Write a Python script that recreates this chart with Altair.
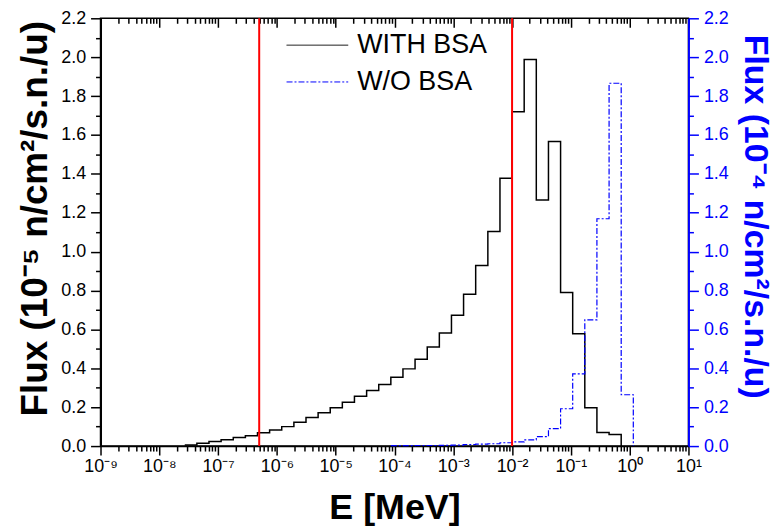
import json
import altair as alt
import pandas as pd

# ---------------- data ----------------
# log10 of bin edges, energy in MeV
with_edges = [-7.567, -7.361, -7.155, -6.949, -6.742, -6.536, -6.330, -6.124, -5.918,
              -5.711, -5.505, -5.299, -5.093, -4.887, -4.681, -4.474, -4.268, -4.062,
              -3.856, -3.650, -3.443, -3.237, -3.031, -2.825, -2.619, -2.412, -2.206,
              -2.000, -1.794, -1.588, -1.381, -1.175, -0.969, -0.763, -0.557, -0.350,
              -0.144]
with_flux = [0.005, 0.014, 0.024, 0.032, 0.044, 0.053, 0.068, 0.083, 0.100,
             0.122, 0.147, 0.171, 0.197, 0.225, 0.256, 0.286, 0.317, 0.354,
             0.397, 0.447, 0.510, 0.581, 0.673, 0.781, 0.929, 1.103, 1.378,
             1.720, 1.988, 1.266, 1.566, 0.790, 0.578, 0.197, 0.070, 0.059]

wo_edges = [-4.062, -3.856, -3.650, -3.443, -3.237, -3.031, -2.825, -2.619, -2.412,
            -2.206, -2.000, -1.794, -1.588, -1.381, -1.175, -0.969, -0.763, -0.557,
            -0.350, -0.144, 0.062]
wo_flux = [0.002, 0.002, 0.003, 0.003, 0.004, 0.005, 0.008, 0.010, 0.012,
           0.017, 0.022, 0.032, 0.049, 0.090, 0.192, 0.371, 0.649, 1.169,
           1.866, 0.264]

series_names = ["WITH BSA", "W/O BSA"]
series_colors = ["#000000", "#0000ff"]
red_lines = [5e-7, 1e-2]

x_major = [1e-9, 1e-8, 1e-7, 1e-6, 1e-5, 1e-4, 1e-3, 1e-2, 1e-1, 1e0, 1e1]
x_tick_labels = ["10⁻⁹", "10⁻⁸", "10⁻⁷", "10⁻⁶", "10⁻⁵", "10⁻⁴", "10⁻³",
                 "10⁻²", "10⁻¹", "10⁰", "10¹"]
x_minor = [m * d for d in x_major[:-1] for m in range(2, 10)]
y_ticks = [0.0, 0.1, 0.2, 0.3, 0.4, 0.5, 0.6, 0.7, 0.8, 0.9, 1.0, 1.1,
           1.2, 1.3, 1.4, 1.5, 1.6, 1.7, 1.8, 1.9, 2.0, 2.1, 2.2]

left_title = "Flux (10⁻⁵ n/cm²/s.n./u)"
right_title = "Flux (10⁻⁴ n/cm²/s.n./u)"
x_title = "E [MeV]"


def steps(edges, vals, name):
    rows = [{"E": 10 ** e, "flux": v, "series": name} for e, v in zip(edges[:-1], vals)]
    rows.append({"E": 10 ** edges[-1], "flux": 0.0, "series": name})
    return pd.DataFrame(rows)


df_with = steps(with_edges, with_flux, series_names[0])
df_wo = steps(wo_edges, wo_flux, series_names[1])
df_red = pd.DataFrame({"E": red_lines})

FONT = "Liberation Sans"
BLUE = "#0000ff"

x_scale = alt.Scale(type="log", domain=[1e-9, 10], nice=False)
y_scale = alt.Scale(domain=[0, 2.2], nice=False, zero=True)

x_major_test = "abs(log(datum.value)/LN10 - round(log(datum.value)/LN10)) < 0.01"
y_major_test = "abs(datum.value*5 - round(datum.value*5)) < 0.01"
x_label_expr = (f"{x_major_test} ? {json.dumps(x_tick_labels, ensure_ascii=False)}"
                f"[round(log(datum.value)/LN10) + 9] : ''")
y_label_expr = f"{y_major_test} ? format(datum.value, '.1f') : ''"

bottom_axis = alt.Axis(
    values=x_major + x_minor, labelExpr=x_label_expr, labelOverlap=False, labelFlush=False,
    tickSize={"condition": {"test": x_major_test, "value": 9}, "value": 5},
    tickColor="black", tickWidth=1.5, domainColor="black", domainWidth=1.5,
    labelFont=FONT, labelFontSize=18, labelColor="black", labelPadding=3,
    title=x_title, titleFont=FONT, titleFontSize=36, titleFontWeight="bold",
    titleColor="black", titleY=73, titleBaseline="alphabetic", grid=False,
)


def y_axis(orient, color, title, title_x, title_y, size, angle):
    return alt.Axis(
        orient=orient, values=y_ticks, labelExpr=y_label_expr, labelOverlap=False,
        labelFlush=False,
        tickSize={"condition": {"test": y_major_test, "value": 10}, "value": 5},
        tickColor=color, tickWidth=1.5, domainColor=color, domainWidth=2,
        labelFont=FONT, labelFontSize=18, labelColor=color, labelPadding=5,
        title=title, titleFont=FONT, titleFontSize=size, titleFontWeight="bold",
        titleColor=color, titleAngle=angle, titleX=title_x, titleY=title_y,
        titleAlign="center", titleBaseline="middle", grid=False,
    )


legend = alt.Legend(
    title=None, orient="none", legendX=202, legendY=11, padding=0,
    symbolType="M-2,0H2", symbolSize=961, symbolStrokeWidth=1,
    labelFont=FONT, labelFontSize=27, labelColor="black", labelOffset=24,
    rowPadding=8,
)
color_enc = alt.Color(
    "series:N", scale=alt.Scale(domain=series_names, range=series_colors), legend=legend,
)
dash_enc = alt.StrokeDash(
    "series:N", scale=alt.Scale(domain=series_names, range=[[1, 0], [6, 2, 2, 2]]),
    legend=legend,
)

black = alt.Chart(df_with).mark_line(interpolate="step-after", strokeWidth=1.5).encode(
    x=alt.X("E:Q", scale=x_scale, axis=bottom_axis),
    y=alt.Y("flux:Q", scale=y_scale,
            axis=y_axis("left", "black", left_title, -65, 201, 37, 270)),
    color=color_enc, strokeDash=dash_enc,
)

blue = alt.Chart(df_wo).mark_line(interpolate="step-after", strokeWidth=1.2).encode(
    x=alt.X("E:Q", scale=x_scale, axis=None),
    y=alt.Y("flux:Q", scale=y_scale,
            axis=y_axis("right", BLUE, right_title, 66, 199, 34, 90)),
    color=color_enc, strokeDash=dash_enc,
)

red = alt.Chart(df_red).mark_rule(color="#ff0000", strokeWidth=2).encode(
    x=alt.X("E:Q", scale=x_scale, axis=None),
)

top_major = alt.Chart(df_red).mark_rule(opacity=0).encode(
    x=alt.X("E:Q", scale=x_scale, axis=alt.Axis(
        orient="top", values=x_major, labels=False, domain=False, grid=False,
        tickSize=9, offset=-9, tickColor="black", tickWidth=1.5, title=None)),
)
top_minor = alt.Chart(df_red).mark_rule(opacity=0).encode(
    x=alt.X("E:Q", scale=x_scale, axis=alt.Axis(
        orient="top", values=x_minor, labels=False, domain=False, grid=False,
        tickSize=5, offset=-5, tickColor="black", tickWidth=1.5, title=None)),
)

chart = (
    alt.layer(black, blue, red, top_major, top_minor)
    .resolve_scale(y="independent")
    .resolve_axis(x="independent", y="independent")
    .properties(
        width=591, height=430,
        autosize=alt.AutoSizeParams(type="none"),
        padding={"left": 93, "top": 9, "right": 88, "bottom": 80},
        background="white",
    )
    .configure_view(stroke="black", strokeWidth=1.5)
)

chart.save("out.html", embed_options={"renderer": "svg", "actions": False})
